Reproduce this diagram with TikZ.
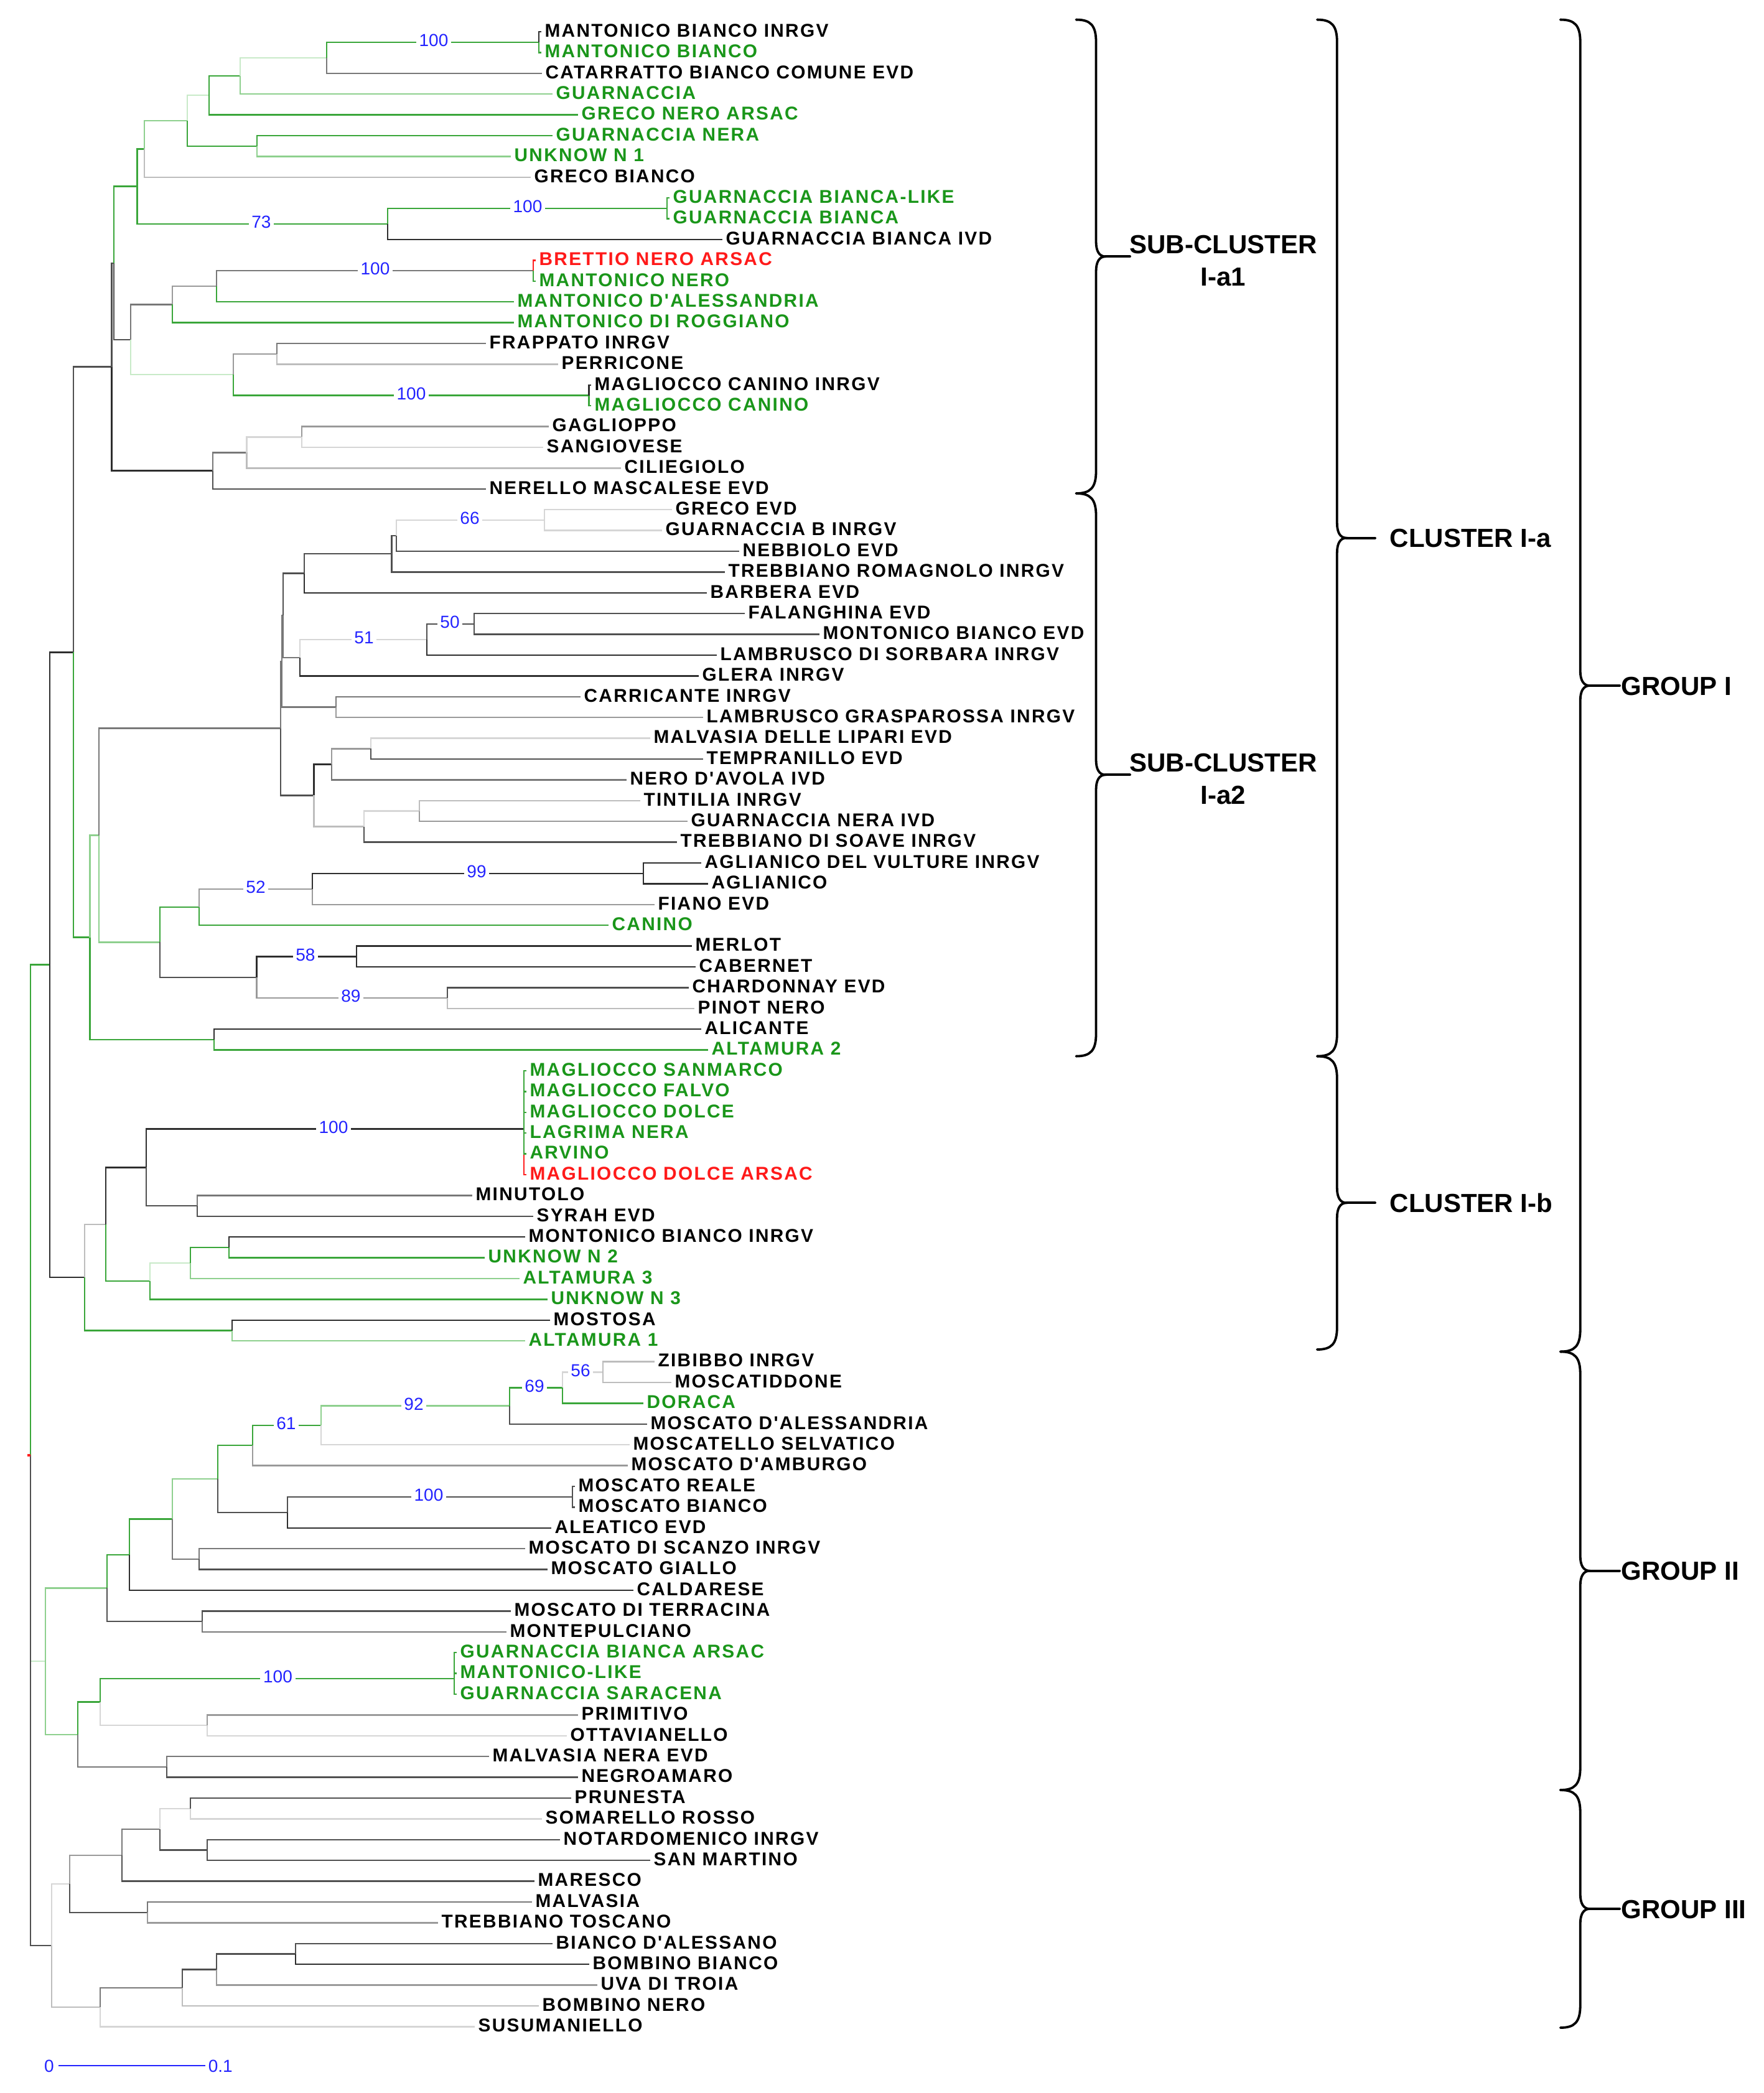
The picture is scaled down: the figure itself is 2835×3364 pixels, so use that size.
\documentclass[tikz,border=0pt]{standalone}
\usepackage{fontspec}
\setmainfont{Liberation Sans}
\newfontfamily\labfont{Liberation Sans}[LetterSpace=7.8]
\newfontfamily\bsfont{Liberation Sans}
\definecolor{c1}{HTML}{2E2E2E}
\definecolor{c2}{HTML}{505050}
\definecolor{c3}{HTML}{787878}
\definecolor{c4}{HTML}{9A9A9A}
\definecolor{c5}{HTML}{BDBDBD}
\definecolor{c6}{HTML}{D6D6D6}
\definecolor{cg1}{HTML}{3AA63A}
\definecolor{cg2}{HTML}{8ED08E}
\definecolor{cg3}{HTML}{C8EAC8}
\definecolor{cred}{HTML}{FF2020}
\definecolor{tgreen}{HTML}{1A961A}
\definecolor{tred}{HTML}{FF1A1A}
\definecolor{bsblue}{HTML}{2323FF}
\tikzset{
  tree/.style={line width=0.6pt},
  k1/.style={tree,draw=c1}, k2/.style={tree,draw=c2}, k3/.style={tree,draw=c3},
  k4/.style={tree,draw=c4}, k5/.style={tree,draw=c5}, k6/.style={tree,draw=c6},
  gr1/.style={tree,draw=cg1}, gr2/.style={tree,draw=cg2}, gr3/.style={tree,draw=cg3},
  rd/.style={tree,draw=cred},
  lab/.style={anchor=west, inner xsep=1.2pt, inner ysep=0pt, text height=5.33pt, text depth=0pt, yshift=0.6pt, font=\labfont\bfseries\fontsize{7.45}{8}\selectfont},
  bs/.style={fill=white, text=bsblue, inner xsep=1.2pt, inner ysep=0.5pt, text height=5pt, text depth=0pt, yshift=0.8pt, font=\bsfont\fontsize{7}{8}\selectfont},
  bsl/.style={text=bsblue, inner sep=0pt, text height=5pt, text depth=0pt, font=\bsfont\fontsize{7}{8}\selectfont},
  bracestyle/.style={line width=0.95pt, draw=black, line cap=round},
  grp/.style={font=\bfseries\fontsize{10.5}{12}\selectfont, inner sep=0pt, text height=7.52pt, text depth=0pt},
}
\newcommand{\tbr}[3]{\draw[#1] (#2) |- (#3);}
\newcommand{\tleaf}[4]{\coordinate (l#1) at (#2,#1);\node[lab,text=#3] (t#1) at (l#1) {#4};}
\newcommand{\bsv}[4]{\node[bs] (#1) at (#2,#3) {#4};}
\newcommand{\mybrace}[5]{%
\pgfmathsetmacro{\bym}{(#3+#4)/2}%
\coordinate (#1) at (#5,\bym);%
\draw[bracestyle] (#2-32,#3) .. controls (#2-9,#3) and (#2,#3+9) .. (#2,#3+36) -- (#2,\bym-24) .. controls (#2,\bym-9) and (#2+5,\bym) .. (#2+15,\bym) .. controls (#2+5,\bym) and (#2,\bym+9) .. (#2,\bym+24) -- (#2,#4-36) .. controls (#2,#4-9) and (#2-9,#4) .. (#2-32,#4);%
\draw[bracestyle] (#2+15,\bym) -- (#1);%
}
\begin{document}
\begin{tikzpicture}[x=0.25pt,y=-8.35pt]
\begin{scope}[y=-0.25pt,yshift=4.4pt]
\fill[white] (0,0) rectangle (2835,3364);
\useasboundingbox (0,0) rectangle (2835,3364);
\end{scope}
% ---------- leaves ----------
\tleaf{1}{870}{black}{MANTONICO BIANCO INRGV}
\tleaf{2}{870}{tgreen}{MANTONICO BIANCO}
\tleaf{3}{871}{black}{CATARRATTO BIANCO COMUNE EVD}
\tleaf{4}{888}{tgreen}{GUARNACCIA}
\tleaf{5}{929}{tgreen}{GRECO NERO ARSAC}
\tleaf{6}{888}{tgreen}{GUARNACCIA NERA}
\tleaf{7}{821}{tgreen}{UNKNOW N 1}
\tleaf{8}{853}{black}{GRECO BIANCO}
\tleaf{9}{1076}{tgreen}{GUARNACCIA BIANCA-LIKE}
\tleaf{10}{1076}{tgreen}{GUARNACCIA BIANCA}
\tleaf{11}{1161}{black}{GUARNACCIA BIANCA IVD}
\tleaf{12}{861}{tred}{BRETTIO NERO ARSAC}
\tleaf{13}{861}{tgreen}{MANTONICO NERO}
\tleaf{14}{826}{tgreen}{MANTONICO D'ALESSANDRIA}
\tleaf{15}{826}{tgreen}{MANTONICO DI ROGGIANO}
\tleaf{16}{781}{black}{FRAPPATO INRGV}
\tleaf{17}{897}{black}{PERRICONE}
\tleaf{18}{950}{black}{MAGLIOCCO CANINO INRGV}
\tleaf{19}{950}{tgreen}{MAGLIOCCO CANINO}
\tleaf{20}{882}{black}{GAGLIOPPO}
\tleaf{21}{873}{black}{SANGIOVESE}
\tleaf{22}{998}{black}{CILIEGIOLO}
\tleaf{23}{781}{black}{NERELLO MASCALESE EVD}
\tleaf{24}{1080}{black}{GRECO EVD}
\tleaf{25}{1064}{black}{GUARNACCIA B INRGV}
\tleaf{26}{1188}{black}{NEBBIOLO EVD}
\tleaf{27}{1165}{black}{TREBBIANO ROMAGNOLO INRGV}
\tleaf{28}{1136}{black}{BARBERA EVD}
\tleaf{29}{1197}{black}{FALANGHINA EVD}
\tleaf{30}{1317}{black}{MONTONICO BIANCO EVD}
\tleaf{31}{1152}{black}{LAMBRUSCO DI SORBARA INRGV}
\tleaf{32}{1123}{black}{GLERA INRGV}
\tleaf{33}{933}{black}{CARRICANTE INRGV}
\tleaf{34}{1130}{black}{LAMBRUSCO GRASPAROSSA INRGV}
\tleaf{35}{1045}{black}{MALVASIA DELLE LIPARI EVD}
\tleaf{36}{1130}{black}{TEMPRANILLO EVD}
\tleaf{37}{1007}{black}{NERO D'AVOLA IVD}
\tleaf{38}{1029}{black}{TINTILIA INRGV}
\tleaf{39}{1105}{black}{GUARNACCIA NERA IVD}
\tleaf{40}{1088}{black}{TREBBIANO DI SOAVE INRGV}
\tleaf{41}{1127}{black}{AGLIANICO DEL VULTURE INRGV}
\tleaf{42}{1138}{black}{AGLIANICO}
\tleaf{43}{1052}{black}{FIANO EVD}
\tleaf{44}{978}{tgreen}{CANINO}
\tleaf{45}{1112}{black}{MERLOT}
\tleaf{46}{1118}{black}{CABERNET}
\tleaf{47}{1107}{black}{CHARDONNAY EVD}
\tleaf{48}{1116}{black}{PINOT NERO}
\tleaf{49}{1127}{black}{ALICANTE}
\tleaf{50}{1138}{tgreen}{ALTAMURA 2}
\tleaf{51}{846}{tgreen}{MAGLIOCCO SANMARCO}
\tleaf{52}{846}{tgreen}{MAGLIOCCO FALVO}
\tleaf{53}{846}{tgreen}{MAGLIOCCO DOLCE}
\tleaf{54}{846}{tgreen}{LAGRIMA NERA}
\tleaf{55}{846}{tgreen}{ARVINO}
\tleaf{56}{846}{tred}{MAGLIOCCO DOLCE ARSAC}
\tleaf{57}{759}{black}{MINUTOLO}
\tleaf{58}{857}{black}{SYRAH EVD}
\tleaf{59}{844}{black}{MONTONICO BIANCO INRGV}
\tleaf{60}{779}{tgreen}{UNKNOW N 2}
\tleaf{61}{835}{tgreen}{ALTAMURA 3}
\tleaf{62}{880}{tgreen}{UNKNOW N 3}
\tleaf{63}{884}{black}{MOSTOSA}
\tleaf{64}{844}{tgreen}{ALTAMURA 1}
\tleaf{65}{1052}{black}{ZIBIBBO INRGV}
\tleaf{66}{1079}{black}{MOSCATIDDONE}
\tleaf{67}{1034}{tgreen}{DORACA}
\tleaf{68}{1040}{black}{MOSCATO D'ALESSANDRIA}
\tleaf{69}{1012}{black}{MOSCATELLO SELVATICO}
\tleaf{70}{1009}{black}{MOSCATO D'AMBURGO}
\tleaf{71}{924}{black}{MOSCATO REALE}
\tleaf{72}{924}{black}{MOSCATO BIANCO}
\tleaf{73}{886}{black}{ALEATICO EVD}
\tleaf{74}{844}{black}{MOSCATO DI SCANZO INRGV}
\tleaf{75}{880}{black}{MOSCATO GIALLO}
\tleaf{76}{1018}{black}{CALDARESE}
\tleaf{77}{821}{black}{MOSCATO DI TERRACINA}
\tleaf{78}{814}{black}{MONTEPULCIANO}
\tleaf{79}{734}{tgreen}{GUARNACCIA BIANCA ARSAC}
\tleaf{80}{734}{tgreen}{MANTONICO-LIKE}
\tleaf{81}{734}{tgreen}{GUARNACCIA SARACENA}
\tleaf{82}{929}{black}{PRIMITIVO}
\tleaf{83}{911}{black}{OTTAVIANELLO}
\tleaf{84}{786}{black}{MALVASIA NERA EVD}
\tleaf{85}{929}{black}{NEGROAMARO}
\tleaf{86}{918}{black}{PRUNESTA}
\tleaf{87}{871}{black}{SOMARELLO ROSSO}
\tleaf{88}{900}{black}{NOTARDOMENICO INRGV}
\tleaf{89}{1045}{black}{SAN MARTINO}
\tleaf{90}{859}{black}{MARESCO}
\tleaf{91}{855}{black}{MALVASIA}
\tleaf{92}{704}{black}{TREBBIANO TOSCANO}
\tleaf{93}{888}{black}{BIANCO D'ALESSANO}
\tleaf{94}{947}{black}{BOMBINO BIANCO}
\tleaf{95}{960}{black}{UVA DI TROIA}
\tleaf{96}{866}{black}{BOMBINO NERO}
\tleaf{97}{763}{black}{SUSUMANIELLO}
% ---------- internal nodes ----------
\coordinate (A) at (866,1.5);
\coordinate (B) at (525,2.25);
\coordinate (C) at (386,3.125);
\coordinate (D) at (336,4.0625);
\coordinate (E) at (413,6.5);
\coordinate (F) at (301,5.28125);
\coordinate (nG) at (232,6.640625);
\coordinate (I) at (1072,9.5);
\coordinate (J) at (623,10.25);
\coordinate (H) at (220.5,8.4453);
\coordinate (L) at (857,12.5);
\coordinate (M) at (348,13.25);
\coordinate (N) at (277,14.125);
\coordinate (Q) at (445,16.5);
\coordinate (S) at (946.5,18.5);
\coordinate (R) at (375,17.5);
\coordinate (O) at (210,15.8125);
\coordinate (K1) at (183,12.129);
\coordinate (U) at (485,20.5);
\coordinate (V) at (396.5,21.25);
\coordinate (W) at (342,22.125);
\coordinate (K2) at (179.5,17.127);
\coordinate (pa) at (875,24.5);
\coordinate (pb) at (637,25.25);
\coordinate (pc) at (629.5,26.125);
\coordinate (pd) at (489,27.0625);
\coordinate (pf) at (762,29.5);
\coordinate (pg) at (686,30.25);
\coordinate (ph) at (482,31.125);
\coordinate (pe) at (455,29.094);
\coordinate (pcr) at (540,33.5);
\coordinate (pe2) at (453,31.297);
\coordinate (pk) at (596,35.5);
\coordinate (pl) at (533,36.25);
\coordinate (pm) at (674,38.5);
\coordinate (pn) at (585,39.25);
\coordinate (pj) at (504.5,37.75);
\coordinate (pe3) at (451,34.52);
\coordinate (po) at (1034,41.5);
\coordinate (pp) at (502,42.25);
\coordinate (pq) at (320,43.125);
\coordinate (ps) at (573,45.5);
\coordinate (pu) at (719,47.5);
\coordinate (pt) at (412.5,46.5);
\coordinate (pr) at (257,44.8125);
\coordinate (P1) at (159,39.67);
\coordinate (pv) at (344,49.5);
\coordinate (P2) at (144.6,44.58);
\coordinate (X) at (118,30.86);
\coordinate (pw) at (842,53.8);
\coordinate (pz) at (317,57.5);
\coordinate (py) at (235,55.65);
\coordinate (pbb) at (368,59.5);
\coordinate (pcc) at (306,60.25);
\coordinate (pdd) at (241,61.125);
\coordinate (paa) at (170,58.39);
\coordinate (pff) at (373,63.5);
\coordinate (pee) at (136,60.94);
\coordinate (G1) at (80,45.9);
\coordinate (q1) at (969,65.5);
\coordinate (q2) at (904,66.25);
\coordinate (q3) at (819,67.125);
\coordinate (q4) at (516,68.06);
\coordinate (q5) at (406,69.03);
\coordinate (q7) at (920,71.5);
\coordinate (q8) at (462,72.25);
\coordinate (q6) at (350,70.64);
\coordinate (q10) at (320,74.5);
\coordinate (q9) at (277,72.57);
\coordinate (q11) at (208,74.285);
\coordinate (q13) at (325,77.5);
\coordinate (q12) at (172,75.89);
\coordinate (q15) at (730,80.25);
\coordinate (h1) at (333,82.5);
\coordinate (q16) at (161,81.375);
\coordinate (h3) at (268,84.5);
\coordinate (h2) at (125,82.94);
\coordinate (q14) at (73,79.41);
\coordinate (i1) at (306,86.5);
\coordinate (i3) at (333,88.5);
\coordinate (i2) at (257,87.5);
\coordinate (i4) at (196,88.75);
\coordinate (i6) at (237,91.5);
\coordinate (i5) at (112,90.125);
\coordinate (i8) at (475,93.5);
\coordinate (i9) at (348,94.25);
\coordinate (i10) at (293,95.125);
\coordinate (i11) at (161,96.06);
\coordinate (i7) at (83,93.09);
\coordinate (root) at (49,69.5);
\coordinate (rootmark) at (44,69.5);
% ---------- branches ----------
\tbr{gr3}{root}{q14}
\tbr{k2}{root}{i7}
\tbr{gr1}{root}{G1}
\draw[cred,line width=0.9pt] (rootmark) -- (root);
% Group I
\tbr{k1}{G1}{X}
\tbr{k1}{G1}{pee}
\tbr{k2}{X}{K2}
\tbr{gr1}{X}{P2}
\tbr{k2}{K2}{K1}
\tbr{k1}{K2}{W}
\tbr{gr1}{K1}{H}
\tbr{k2}{K1}{O}
\tbr{gr1}{H}{nG}
\tbr{gr1}{H}{J}
\tbr{gr2}{nG}{F}
\tbr{k5}{nG}{l8}
\tbr{gr3}{F}{D}
\tbr{gr1}{F}{E}
\tbr{gr1}{D}{C}
\tbr{gr1}{D}{l5}
\tbr{gr3}{C}{B}
\tbr{gr2}{C}{l4}
\tbr{gr1}{B}{A}
\tbr{k3}{B}{l3}
\tbr{k1}{A}{l1}
\tbr{gr1}{A}{l2}
\tbr{gr1}{E}{l6}
\tbr{gr2}{E}{l7}
\tbr{gr1}{J}{I}
\tbr{k1}{J}{l11}
\tbr{gr1}{I}{l9}
\tbr{gr1}{I}{l10}
\tbr{k3}{O}{N}
\tbr{gr3}{O}{R}
\tbr{k4}{N}{M}
\tbr{gr1}{N}{l15}
\tbr{k3}{M}{L}
\tbr{gr1}{M}{l14}
\tbr{rd}{L}{l12}
\tbr{gr1}{L}{l13}
\tbr{k4}{R}{Q}
\tbr{gr1}{R}{S}
\tbr{k3}{Q}{l16}
\tbr{k5}{Q}{l17}
\tbr{k1}{S}{l18}
\tbr{gr1}{S}{l19}
\tbr{k3}{W}{V}
\tbr{k2}{W}{l23}
\tbr{k6}{V}{U}
\tbr{k5}{V}{l22}
\tbr{k4}{U}{l20}
\tbr{k6}{U}{l21}
% sub-cluster I-a2
\tbr{gr2}{P2}{P1}
\tbr{gr1}{P2}{pv}
\tbr{k1}{pv}{l49}
\tbr{gr1}{pv}{l50}
\tbr{k3}{P1}{pe3}
\tbr{gr2}{P1}{pr}
\tbr{k3}{pe3}{pe2}
\tbr{k2}{pe3}{pj}
\tbr{k3}{pe2}{pe}
\tbr{k3}{pe2}{pcr}
\tbr{k2}{pe}{pd}
\tbr{k3}{pe}{ph}
\tbr{k2}{pd}{pc}
\tbr{k1}{pd}{l28}
\tbr{k2}{pc}{pb}
\tbr{k2}{pc}{l27}
\tbr{k6}{pb}{pa}
\tbr{k2}{pb}{l26}
\tbr{k6}{pa}{l24}
\tbr{k6}{pa}{l25}
\tbr{k6}{ph}{pg}
\tbr{k1}{ph}{l32}
\tbr{k2}{pg}{pf}
\tbr{k1}{pg}{l31}
\tbr{k2}{pf}{l29}
\tbr{k2}{pf}{l30}
\tbr{k3}{pcr}{l33}
\tbr{k4}{pcr}{l34}
\tbr{k1}{pj}{pl}
\tbr{k5}{pj}{pn}
\tbr{k4}{pl}{pk}
\tbr{k3}{pl}{l37}
\tbr{k6}{pk}{l35}
\tbr{k2}{pk}{l36}
\tbr{k6}{pn}{pm}
\tbr{k2}{pn}{l40}
\tbr{k5}{pm}{l38}
\tbr{k4}{pm}{l39}
\tbr{gr1}{pr}{pq}
\tbr{k2}{pr}{pt}
\tbr{k4}{pq}{pp}
\tbr{gr1}{pq}{l44}
\tbr{k1}{pp}{po}
\tbr{k4}{pp}{l43}
\tbr{k1}{po}{l41}
\tbr{k1}{po}{l42}
\tbr{k1}{pt}{ps}
\tbr{k4}{pt}{pu}
\tbr{k1}{ps}{l45}
\tbr{k1}{ps}{l46}
\tbr{k2}{pu}{l47}
\tbr{k5}{pu}{l48}
% cluster I-b
\tbr{k5}{pee}{paa}
\tbr{gr1}{pee}{pff}
\tbr{k1}{paa}{py}
\tbr{gr1}{paa}{pdd}
\tbr{k1}{py}{pw}
\tbr{k2}{py}{pz}
\tbr{rd}{pw}{l56}
\tbr{gr1}{pw}{l51}
\tbr{gr1}{pw}{l52}
\tbr{gr1}{pw}{l53}
\tbr{gr1}{pw}{l54}
\tbr{gr1}{pw}{l55}
\tbr{k3}{pz}{l57}
\tbr{k2}{pz}{l58}
\tbr{gr3}{pdd}{pcc}
\tbr{gr1}{pdd}{l62}
\tbr{gr1}{pcc}{pbb}
\tbr{gr2}{pcc}{l61}
\tbr{k1}{pbb}{l59}
\tbr{gr1}{pbb}{l60}
\tbr{k1}{pff}{l63}
\tbr{gr2}{pff}{l64}
% Group II
\tbr{gr2}{q14}{q12}
\tbr{gr2}{q14}{h2}
\tbr{gr1}{q12}{q11}
\tbr{k2}{q12}{q13}
\tbr{gr1}{q11}{q9}
\tbr{k1}{q11}{l76}
\tbr{gr2}{q9}{q6}
\tbr{k3}{q9}{q10}
\tbr{gr1}{q6}{q5}
\tbr{k2}{q6}{q8}
\tbr{gr1}{q5}{q4}
\tbr{k4}{q5}{l70}
\tbr{gr2}{q4}{q3}
\tbr{k6}{q4}{l69}
\tbr{gr1}{q3}{q2}
\tbr{k2}{q3}{l68}
\tbr{k6}{q2}{q1}
\tbr{gr1}{q2}{l67}
\tbr{k5}{q1}{l65}
\tbr{k5}{q1}{l66}
\tbr{k2}{q8}{q7}
\tbr{k1}{q8}{l73}
\tbr{k2}{q7}{l71}
\tbr{k2}{q7}{l72}
\tbr{k3}{q10}{l74}
\tbr{k2}{q10}{l75}
\tbr{k2}{q13}{l77}
\tbr{k3}{q13}{l78}
\tbr{gr1}{h2}{q16}
\tbr{k3}{h2}{h3}
\tbr{gr1}{q16}{q15}
\tbr{k6}{q16}{h1}
\tbr{gr1}{q15}{l79}
\tbr{gr1}{q15}{l80}
\tbr{gr1}{q15}{l81}
\tbr{k4}{h1}{l82}
\tbr{k6}{h1}{l83}
\tbr{k3}{h3}{l84}
\tbr{k2}{h3}{l85}
% Group III
\tbr{k6}{i7}{i5}
\tbr{k5}{i7}{i11}
\tbr{k4}{i5}{i4}
\tbr{k2}{i5}{i6}
\tbr{k3}{i4}{i2}
\tbr{k2}{i4}{l90}
\tbr{k6}{i2}{i1}
\tbr{k2}{i2}{i3}
\tbr{k2}{i1}{l86}
\tbr{k6}{i1}{l87}
\tbr{k2}{i3}{l88}
\tbr{k2}{i3}{l89}
\tbr{k3}{i6}{l91}
\tbr{k4}{i6}{l92}
\tbr{k3}{i11}{i10}
\tbr{k6}{i11}{l97}
\tbr{k2}{i10}{i9}
\tbr{k5}{i10}{l96}
\tbr{k2}{i9}{i8}
\tbr{k4}{i9}{l95}
\tbr{k2}{i8}{l93}
\tbr{k1}{i8}{l94}
% ---------- bootstrap values ----------
\bsv{b1}{697}{1.5}{100}
\bsv{b2}{848}{9.5}{100}
\bsv{b3}{420}{10.25}{73}
\bsv{b4}{603}{12.5}{100}
\bsv{b5}{661}{18.5}{100}
\bsv{b6}{755}{24.5}{66}
\bsv{b7}{723}{29.5}{50}
\bsv{b8}{585}{30.25}{51}
\bsv{b9}{766}{41.5}{99}
\bsv{b10}{411}{42.25}{52}
\bsv{b11}{491}{45.5}{58}
\bsv{b12}{564}{47.5}{89}
\bsv{b13}{536}{53.8}{100}
\bsv{b14}{933}{65.5}{56}
\bsv{b15}{859}{66.25}{69}
\bsv{b16}{665}{67.125}{92}
\bsv{b17}{460}{68.06}{61}
\bsv{b18}{689}{71.5}{100}
\bsv{b19}{446.5}{80.25}{100}
% ---------- brackets, labels, scale ----------
\begin{scope}[y=-0.25pt,yshift=4.4pt]
\mybrace{tipA}{1761.5}{31.6}{793}{1816}
\mybrace{tipB}{1761.5}{793}{1697.6}{1816}
\mybrace{tipC}{2148.8}{31.6}{1697.6}{2210}
\mybrace{tipD}{2148.8}{1697.6}{2169}{2210}
\mybrace{tipE}{2539.7}{31.6}{2172.4}{2603}
\mybrace{tipF}{2539.7}{2172.4}{2877}{2603}
\mybrace{tipG}{2539.7}{2877}{3259}{2603}
\node[grp] (lsub1a) at (1966,392.3) {SUB-CLUSTER};
\node[grp] (lsub1b) at (1966,444.3) {I-a1};
\node[grp] (lsub2a) at (1966,1225.3) {SUB-CLUSTER};
\node[grp] (lsub2b) at (1966,1277.3) {I-a2};
\node[grp,anchor=west] (lcl1) at (2233,864.6) {CLUSTER I-a};
\node[grp,anchor=west] (lcl2) at (2233,1933.3) {CLUSTER I-b};
\node[grp,anchor=west] (lgp1) at (2605,1102) {GROUP I};
\node[grp,anchor=west] (lgp2) at (2605,2524.7) {GROUP II};
\node[grp,anchor=west] (lgp3) at (2605,3068) {GROUP III};
\coordinate (sb0) at (94,3320);
\coordinate (sb1) at (330,3320);
\draw[bsblue,line width=0.55pt] (sb0) -- (sb1);
\node[bsl] (sbt0) at (79,3320) {0};
\node[bsl,anchor=west] (sbt1) at (334,3320) {0.1};
\end{scope}
\end{tikzpicture}
\end{document}
